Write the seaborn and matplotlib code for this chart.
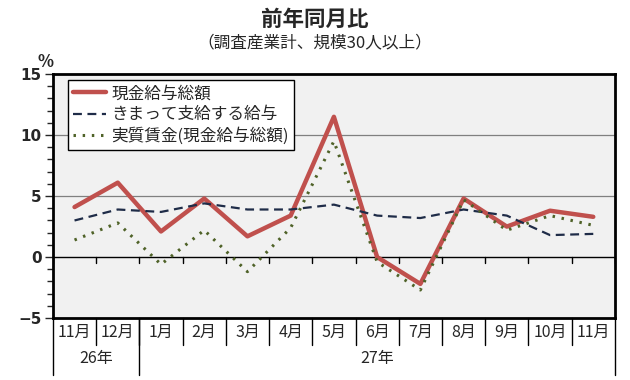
import pandas as pd
import matplotlib
matplotlib.use("Agg")
import matplotlib.pyplot as plt
import matplotlib.transforms as mtransforms
from matplotlib.ticker import MultipleLocator
import seaborn as sns

# Data
months = ["11月", "12月", "1月", "2月", "3月", "4月", "5月", "6月", "7月", "8月", "9月", "10月", "11月"]
years = ["26年", "27年"]
year_spans = [(0, 2), (2, 13)]  # month index ranges per year
genkin = [4.1, 6.1, 2.1, 4.8, 1.7, 3.4, 11.5, 0.0, -2.2, 4.8, 2.5, 3.8, 3.3]
kimatte = [3.0, 3.9, 3.7, 4.4, 3.9, 3.9, 4.3, 3.4, 3.2, 3.9, 3.4, 1.8, 1.9]
jisshitsu = [1.4, 2.8, -0.6, 2.2, -1.2, 2.4, 9.5, -0.4, -2.7, 4.7, 2.2, 3.4, 2.6]
labels = ["現金給与総額", "きまって支給する給与", "実質賃金(現金給与総額)"]

df = pd.DataFrame({"x": range(len(months)), "genkin": genkin,
                   "kimatte": kimatte, "jisshitsu": jisshitsu})

sns.set_style("white")
plt.rcParams['font.family'] = ['Noto Sans CJK JP', 'DejaVu Sans']

fig = plt.figure(figsize=(6.3, 3.8), dpi=100)
ax = fig.add_axes([0.084, 0.163, 0.892, 0.642])
ax.set_facecolor("#f1f1f1")

sns.lineplot(data=df, x="x", y="genkin", ax=ax, color="#c0504d", linewidth=3.2, label=labels[0])
sns.lineplot(data=df, x="x", y="kimatte", ax=ax, color="#1f2c48", linewidth=1.6,
             linestyle=(0, (4, 2.5)), label=labels[1])
sns.lineplot(data=df, x="x", y="jisshitsu", ax=ax, color="#4f6228", linewidth=2.2,
             linestyle=(0, (0.8, 2.2)), label=labels[2])

ax.set_xlim(-0.5, len(months) - 0.5)
ax.set_ylim(-5, 15)
for v in [5, 10]:
    ax.axhline(v, color="#808080", linewidth=0.9, zorder=0.5)
ax.axhline(0, color="black", linewidth=1.0, zorder=1)

# ticks at category boundaries on the zero line
for i in range(len(months) + 1):
    ax.plot([i - 0.5, i - 0.5], [0, -0.45], color="black", linewidth=1.0, zorder=1)

ax.yaxis.set_major_locator(MultipleLocator(5))
ax.yaxis.set_minor_locator(MultipleLocator(1))
ax.tick_params(axis="y", which="major", direction="out", length=6, width=1,
               left=True, labelsize=11, pad=2)
ax.tick_params(axis="y", which="minor", direction="out", length=4, width=1, left=True)
for lab in ax.get_yticklabels():
    lab.set_fontweight("bold")
    lab.set_family(["DejaVu Sans"])
ax.set_xticks([])
ax.set_xlabel("")
ax.set_ylabel("")

for s in ax.spines.values():
    s.set_visible(True)
    s.set_color("black")
    s.set_linewidth(2)

# category table below the axes
trans = mtransforms.blended_transform_factory(ax.transData, ax.transAxes)
for i, m in enumerate(months):
    ax.text(i, -0.058, m, transform=trans, ha="center", va="center", fontsize=11.5, clip_on=False)
for i in range(1, len(months)):
    ax.plot([i - 0.5, i - 0.5], [0, -0.11], transform=trans, color="black",
            linewidth=1, clip_on=False)
bounds = sorted({b for span in year_spans for b in span})
for b in bounds:
    ax.plot([b - 0.5, b - 0.5], [0, -0.235], transform=trans, color="black",
            linewidth=1, clip_on=False)
for y, (a, b) in zip(years, year_spans):
    ax.text((a + b - 1) / 2, -0.165, y, transform=trans, ha="center", va="center",
            fontsize=11.5, clip_on=False)

leg = ax.legend(loc="upper left", bbox_to_anchor=(0.027, 0.975), frameon=True, fancybox=False,
                fontsize=12, handlelength=2.0, handletextpad=0.3, borderpad=0.3,
                labelspacing=0.25, borderaxespad=0)
leg.get_frame().set_edgecolor("black")
leg.get_frame().set_linewidth(1)
leg.get_frame().set_facecolor("white")
leg.get_frame().set_alpha(1)

fig.text(0.5, 0.95, "前年同月比", ha="center", va="center", fontsize=15.5, fontweight="bold")
fig.text(0.5, 0.888, "（調査産業計、規模30人以上）", ha="center", va="center", fontsize=12)
fig.text(0.072, 0.836, "%", ha="center", va="center", fontsize=12, fontweight="bold")

fig.savefig("out.png", dpi=100)
